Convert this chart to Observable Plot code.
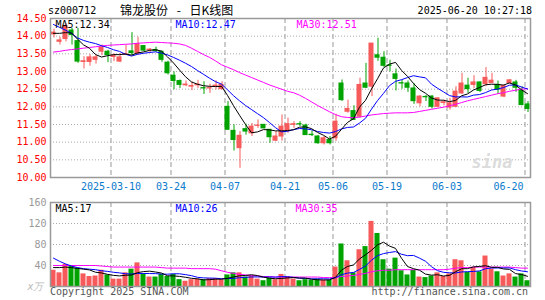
<!DOCTYPE html>
<html><head><meta charset="utf-8">
<script src="https://cdn.jsdelivr.net/npm/d3@7"></script>
<script src="https://cdn.jsdelivr.net/npm/@observablehq/plot@0.6"></script>
<style>
html,body{margin:0;padding:0;background:#fff;}
#wrap{position:relative;width:545px;height:300px;overflow:hidden;font-family:"DejaVu Sans Mono",monospace;}
.t{position:absolute;white-space:pre;font-size:10px;line-height:1;color:#000;}
#main,#vol{position:absolute;left:0;}
</style></head><body>
<div id="wrap">
 <div id="main" style="top:0px;"></div>
 <div id="vol" style="top:195px;"></div>
 <div class="t" style="left:48px;top:5.5px;">sz000712</div>
 <div class="t" style="left:120px;top:3.5px;font-family:'Noto Sans CJK SC';font-size:12px;word-spacing:6px;">锦龙股份 - 日K线图</div>
 <div class="t" style="right:13px;top:5.5px;">2025-06-20 10:27:18</div>
 <div class="t" style="left:50px;top:286.5px;color:#555;">Copyright 2025 SINA.COM</div>
 <div class="t" style="right:17px;top:286.5px;color:#555;">http://finance.sina.com.cn</div>
</div>
<script>
// ---- data ----
const dates = ["02-24","02-25","02-26","02-27","02-28","03-03","03-04","03-05","03-06","03-07",
"03-10","03-11","03-12","03-13","03-14","03-17","03-18","03-19","03-20","03-21",
"03-24","03-25","03-26","03-27","03-28","03-31","04-01","04-02","04-03","04-07",
"04-08","04-09","04-10","04-11","04-14","04-15","04-16","04-17","04-18","04-21",
"04-22","04-23","04-24","04-25","04-28","04-29","04-30","05-06","05-07","05-08",
"05-09","05-12","05-13","05-14","05-15","05-16","05-19","05-20","05-21","05-22",
"05-23","05-26","05-27","05-28","05-29","05-30","06-03","06-04","06-05","06-06",
"06-09","06-10","06-11","06-12","06-13","06-16","06-17","06-18","06-19","06-20"];
const open = [14.05,13.84,13.92,14.16,13.86,13.27,13.27,13.33,13.56,13.56,
13.41,13.28,13.47,13.57,13.51,13.72,13.60,13.61,13.56,13.25,
12.88,12.73,12.61,12.57,12.61,12.53,12.52,12.58,12.50,12.00,
11.32,10.83,11.37,11.25,11.46,11.49,11.35,11.04,11.16,11.33,
11.49,11.51,11.47,11.21,11.16,10.97,11.06,11.11,12.66,11.86,
11.88,11.72,12.66,12.57,13.46,13.39,13.17,12.92,12.67,12.66,
12.52,12.10,12.28,12.29,12.00,12.11,11.98,12.00,12.38,12.60,
12.62,12.69,12.64,12.67,12.62,12.29,12.67,12.69,12.45,12.07];
const close = [14.10,13.88,14.29,14.03,13.28,13.29,13.40,13.40,13.68,13.46,
13.45,13.40,13.49,13.52,13.77,13.59,13.62,13.58,13.33,12.95,
12.73,12.62,12.63,12.59,12.63,12.52,12.53,12.60,12.62,11.35,
11.06,11.18,11.30,11.44,11.47,11.39,11.14,11.16,11.44,11.51,
11.51,11.50,11.20,11.20,10.97,11.11,10.97,11.58,12.19,11.94,
11.63,12.62,12.54,13.79,13.39,13.16,13.16,12.79,12.66,12.54,
12.16,12.29,12.27,12.00,12.24,12.13,12.10,12.43,12.66,12.50,
12.69,12.45,12.82,12.74,12.48,12.59,12.75,12.54,12.05,11.94];
const high = [14.20,13.97,14.35,14.22,14.22,13.42,13.48,13.46,13.75,13.60,
13.50,13.51,13.75,14.10,13.97,13.73,13.65,13.69,13.56,13.29,
12.99,12.76,12.73,12.71,12.75,12.71,12.64,12.74,12.71,12.15,
11.49,11.30,11.51,11.53,11.63,11.50,11.35,11.30,11.77,11.68,
11.58,11.58,11.51,11.32,11.19,11.16,11.16,11.79,12.76,12.19,
12.03,12.81,13.23,13.79,13.94,13.56,13.32,13.07,12.76,12.73,
12.66,12.32,12.32,12.32,12.26,12.19,12.24,12.57,12.95,12.81,
12.88,12.71,13.11,12.95,12.73,12.62,12.77,12.75,12.57,12.15];
const low = [13.95,13.75,13.84,13.75,13.23,13.07,13.15,13.21,13.45,13.25,
13.28,13.25,13.45,13.45,13.46,13.56,13.51,13.54,13.26,12.90,
12.48,12.52,12.57,12.46,12.52,12.35,12.38,12.48,12.48,11.35,
10.75,10.26,11.20,11.16,11.39,11.38,10.97,11.02,11.03,11.25,
11.39,11.44,11.19,11.16,10.94,10.92,10.92,11.02,12.15,11.82,
11.63,11.68,12.52,12.29,13.29,13.11,12.99,12.45,12.50,12.41,
12.07,12.00,12.15,11.94,11.98,12.03,11.91,11.98,12.35,12.38,
12.52,12.41,12.57,12.66,12.35,12.26,12.65,12.41,12.03,11.84];
const volume = [31,26,42,38,35,24,19,20,31,22,
14,14,26,33,45,24,18,18,23,19,
23,13,10,13,14,13,15,15,13,22,
26,26,18,20,14,11,16,13,23,19,
14,11,13,12,14,12,12,37,81,49,
26,70,76,124,101,51,33,54,30,22,
31,18,17,20,26,19,24,51,49,27,
36,28,58,33,28,20,24,18,24,11];
const ma5Head = [14.08,14.08,14.10,14.09];
const ma10Head = [14.33,14.25,14.17,14.08,13.95,13.88,13.83,13.79,13.73];
const ma30 = [13.55,13.57,13.60,13.62,13.64,13.66,13.68,13.70,13.72,13.74,
13.75,13.76,13.77,13.78,13.80,13.81,13.82,13.83,13.82,13.81,
13.80,13.78,13.74,13.66,13.57,13.48,13.40,13.30,13.19,13.12,
13.05,12.97,12.90,12.83,12.76,12.69,12.62,12.56,12.50,12.44,
12.40,12.33,12.24,12.14,12.04,11.95,11.86,11.78,11.72,11.70,
11.69,11.71,11.74,11.77,11.79,11.81,11.82,11.83,11.83,11.83,
11.84,11.87,11.90,11.93,11.96,11.99,12.03,12.07,12.12,12.17,
12.21,12.25,12.29,12.33,12.37,12.40,12.44,12.47,12.50,12.51];
const vma5Head = [36,36,37,36];
const vma10Head = [54,48,43,39,36,34,33,32,30];
const vma30 = [40,40,40,40,40,40,40,40,39,38,
37,37,37,37,37,37,37,37,36,35,
35,35,35,34,34,34,34,33,30,27,
25,23,22,21,20,19,19,18,18,18,
18,18,18,18,18,17,17,17,19,20,
21,23,25,28,30,31,31,32,32,32,
32,32,32,32,32,32,33,35,36,36,
37,37,37,37,37,37,37,36,35,35];
const priceTicks = [10.00,10.50,11.00,11.50,12.00,12.50,13.00,13.50,14.00,14.50];
const volTicks = [40,80,120,160];
const tickDates = ["03-10","03-24","04-07","04-21","05-06","05-19","06-03","06-20"];
const tickLabels = ["2025-03-10","03-24","04-07","04-21","05-06","05-19","06-03","06-20"];
const priceLegend = ["MA5:12.34","MA10:12.47","MA30:12.51"];
const volLegend = ["MA5:17","MA10:26","MA30:35"];
const volUnit = "x万";

// ---- build ----
const RED = "#f75a5a", GREEN = "#00a300", GRID = "#aaa", FRAME = "#999";
const N = dates.length;
function movingAvg(arr, n, head) {
  return arr.map((v, i) => i >= n - 1 ? d3.mean(arr.slice(i - n + 1, i + 1)) : head[i]);
}
const ma5 = movingAvg(close, 5, ma5Head), ma10 = movingAvg(close, 10, ma10Head);
const vma5 = movingAvg(volume, 5, vma5Head), vma10 = movingAvg(volume, 10, vma10Head);
const rows = dates.map((d, i) => ({
  i, date: d, open: open[i], high: high[i], low: low[i], close: close[i], vol: volume[i],
  col: close[i] >= open[i] ? RED : GREEN,
  ma5: ma5[i], ma10: ma10[i], ma30: ma30[i], vma5: vma5[i], vma10: vma10[i], vma30: vma30[i]
}));
const tickIdx = tickDates.map(d => dates.indexOf(d));
const xOpt = {domain: [-0.5, N - 0.5], axis: null};
const baseStyle = {fontFamily: "DejaVu Sans Mono", fontSize: "10px", background: "transparent", overflow: "visible"};
const legendMarks = (labels, cols, dxs) => labels.map((t, k) =>
  Plot.text([t], {frameAnchor: "top-left", text: d => d, dx: dxs[k], dy: 2, lineAnchor: "top", textAnchor: "start", fill: cols[k]}));
const legendCols = ["#000", "#00f", "#f0f"];

const mainPlot = Plot.plot({
  width: 545, height: 195, marginLeft: 50, marginRight: 15, marginTop: 18, marginBottom: 18,
  style: baseStyle,
  x: xOpt,
  y: {domain: [10, 14.5], axis: null},
  color: {type: "identity"},
  marks: [
    Plot.ruleY(priceTicks.slice(1, -1), {stroke: GRID, strokeDasharray: "1,2"}),
    Plot.ruleX(tickIdx, {x: d => d, dx: -2.5, stroke: GRID, strokeWidth: 1.2, strokeDasharray: "5,3"}),
    Plot.text(["sina"], {frameAnchor: "bottom-right", dx: -18, dy: -10, fill: "#dcdcdc", fontSize: 17, fontWeight: "bold", fontStyle: "italic"}),
    Plot.ruleX(rows, {x: "i", y1: "low", y2: "high", stroke: "col", dx: 0.5}),
    Plot.rect(rows, {x1: d => d.i - 0.42, x2: d => d.i + 0.42, y1: "open", y2: "close", fill: "col", insetTop: -0.5, insetBottom: -0.5}),
    Plot.line(rows, {x: "i", y: "ma30", stroke: "#f0f", strokeWidth: 1}),
    Plot.line(rows, {x: "i", y: "ma10", stroke: "#00f", strokeWidth: 1}),
    Plot.line(rows, {x: "i", y: "ma5", stroke: "#000", strokeWidth: 1}),
    Plot.text(priceTicks, {y: d => d, text: d => d.toFixed(2), frameAnchor: "left", textAnchor: "end", dx: -4, fill: "#f00"}),
    Plot.text(tickIdx.slice(0, -1), {x: d => d, text: (d, k) => tickLabels[k], frameAnchor: "bottom", dx: -2.5, dy: 9, lineAnchor: "middle", fill: "#0a7acc"}),
    Plot.text(tickIdx.slice(-1), {x: d => d, text: () => tickLabels[tickLabels.length - 1], frameAnchor: "bottom", dx: -4, dy: 9, lineAnchor: "middle", textAnchor: "end", fill: "#0a7acc"}),
    ...legendMarks(priceLegend, legendCols, [5, 125, 246]),
    Plot.frame({stroke: FRAME, strokeWidth: 1.5})
  ]
});
document.getElementById("main").append(mainPlot);

const volPlot = Plot.plot({
  width: 545, height: 105, marginLeft: 50, marginRight: 15, marginTop: 7, marginBottom: 14,
  style: baseStyle,
  x: xOpt,
  y: {domain: [0, 160], axis: null},
  color: {type: "identity"},
  marks: [
    Plot.ruleY(volTicks.slice(0, -1), {stroke: GRID, strokeDasharray: "1,2"}),
    Plot.ruleX(tickIdx, {x: d => d, dx: -2.5, stroke: GRID, strokeWidth: 1.2, strokeDasharray: "5,3"}),
    Plot.rect(rows, {x1: d => d.i - 0.42, x2: d => d.i + 0.42, y1: 0, y2: "vol", fill: "col"}),
    Plot.line(rows, {x: "i", y: "vma30", stroke: "#f0f", strokeWidth: 1}),
    Plot.line(rows, {x: "i", y: "vma10", stroke: "#00f", strokeWidth: 1}),
    Plot.line(rows, {x: "i", y: "vma5", stroke: "#000", strokeWidth: 1}),
    Plot.text(volTicks, {y: d => d, text: d => String(d), frameAnchor: "left", textAnchor: "end", dx: -4, fill: "#999"}),
    Plot.text([volUnit], {frameAnchor: "bottom-left", text: d => d, textAnchor: "end", dx: -7, lineAnchor: "middle", fill: "#bbb", fontStyle: "italic"}),
    ...legendMarks(volLegend, legendCols, [5, 125, 245]),
    Plot.frame({stroke: FRAME, strokeWidth: 1.5})
  ]
});
document.getElementById("vol").append(volPlot);
</script>
</body></html>
